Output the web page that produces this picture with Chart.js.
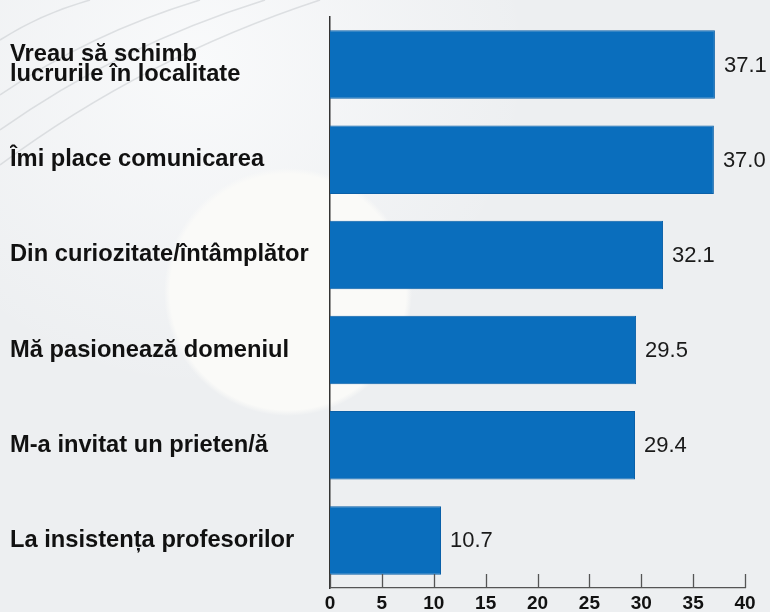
<!DOCTYPE html>
<html>
<head>
<meta charset="utf-8">
<script src="https://cdn.jsdelivr.net/npm/chart.js@4.4.1/dist/chart.umd.min.js"></script>
<style>
  html, body { margin: 0; padding: 0; background: #edeff1; }
  #wrap { width: 770px; height: 612px; position: relative; }
</style>
</head>
<body>
<div id="wrap"><canvas id="chart" width="770" height="612"></canvas></div>
<script>
// Data
const categories = [
    ['Vreau să schimb', 'lucrurile în localitate'],
    'Îmi place comunicarea',
    'Din curiozitate/întâmplător',
    'Mă pasionează domeniul',
    'M-a invitat un prieten/ă',
    'La insistența profesorilor'
];
const values = [37.1, 37.0, 32.1, 29.5, 29.4, 10.7];
const xTicks = [0, 5, 10, 15, 20, 25, 30, 35, 40];

// Soft decorative background (light circle + faint lines top-left)
const backgroundPlugin = {
    id: 'bg',
    beforeDraw(chart) {
        const ctx = chart.ctx;
        ctx.save();
        ctx.fillStyle = '#edeff1';
        ctx.fillRect(0, 0, chart.width, chart.height);
        let g = ctx.createRadialGradient(200, 60, 0, 200, 60, 330);
        g.addColorStop(0, 'rgba(250,251,252,0.9)');
        g.addColorStop(1, 'rgba(250,251,252,0)');
        ctx.fillStyle = g;
        ctx.fillRect(0, 0, chart.width, chart.height);
        ctx.strokeStyle = 'rgba(195,199,204,0.5)';
        ctx.lineWidth = 1.5;
        [[40, 90], [95, 200], [130, 265], [165, 320]].forEach(([y0, x1]) => {
            ctx.beginPath();
            ctx.moveTo(0, y0);
            ctx.quadraticCurveTo(x1 * 0.45, y0 * 0.35, x1, 0);
            ctx.stroke();
        });
        g = ctx.createRadialGradient(288, 292, 118, 288, 292, 124);
        g.addColorStop(0, 'rgba(250,250,248,1)');
        g.addColorStop(1, 'rgba(250,250,248,0)');
        ctx.fillStyle = g;
        ctx.beginPath();
        ctx.arc(288, 292, 124, 0, Math.PI * 2);
        ctx.fill();
        ctx.restore();
    }
};

// Value labels at bar ends + inward tick marks on the x axis
const labelsPlugin = {
    id: 'valueLabels',
    afterDatasetsDraw(chart) {
        const ctx = chart.ctx;
        const meta = chart.getDatasetMeta(0);
        ctx.save();
        ctx.font = '22px "Liberation Sans", Arial, sans-serif';
        ctx.fillStyle = '#1a1a1a';
        ctx.textBaseline = 'middle';
        meta.data.forEach((bar, i) => {
            ctx.fillText(values[i].toFixed(1), bar.x + 9, bar.y + 1);
        });
        const xs = chart.scales.x;
        const bottom = chart.chartArea.bottom;
        ctx.strokeStyle = '#555';
        ctx.lineWidth = 1.3;
        xTicks.forEach(t => {
            const px = Math.round(xs.getPixelForValue(t)) + 0.5;
            ctx.beginPath();
            ctx.moveTo(px, bottom);
            ctx.lineTo(px, bottom - 14);
            ctx.stroke();
        });
        ctx.restore();
    }
};

new Chart(document.getElementById('chart'), {
    type: 'bar',
    data: {
        labels: categories,
        datasets: [{
            data: values,
            backgroundColor: '#0a6ebd',
            borderColor: '#0a60a8',
            borderWidth: 1,
            barPercentage: 0.8,
            categoryPercentage: 0.9
        }]
    },
    options: {
        indexAxis: 'y',
        responsive: false,
        animation: false,
        layout: { padding: { left: 10, top: 17, right: 25, bottom: 0 } },
        plugins: {
            legend: { display: false },
            tooltip: { enabled: false }
        },
        scales: {
            x: {
                min: 0,
                max: 40,
                afterFit(scale) { scale.height = 24; },
                afterBuildTicks(scale) { scale.ticks = xTicks.map(v => ({ value: v })); },
                grid: { display: false, drawTicks: false },
                border: { display: true, color: '#555', width: 1.3 },
                ticks: {
                    padding: 4,
                    color: '#111',
                    font: { family: '"Liberation Sans", Arial, sans-serif', size: 19, weight: 'bold' },
                    maxRotation: 0
                }
            },
            y: {
                afterFit(scale) { scale.width = 320; },
                grid: { display: false, drawTicks: false },
                border: { display: true, color: '#333', width: 1.5 },
                ticks: {
                    crossAlign: 'far',
                    color: '#111',
                    font: { family: '"Liberation Sans", Arial, sans-serif', size: 23.7, weight: 'bold', lineHeight: 0.85 }
                }
            }
        }
    },
    plugins: [backgroundPlugin, labelsPlugin]
});
</script>
</body>
</html>
